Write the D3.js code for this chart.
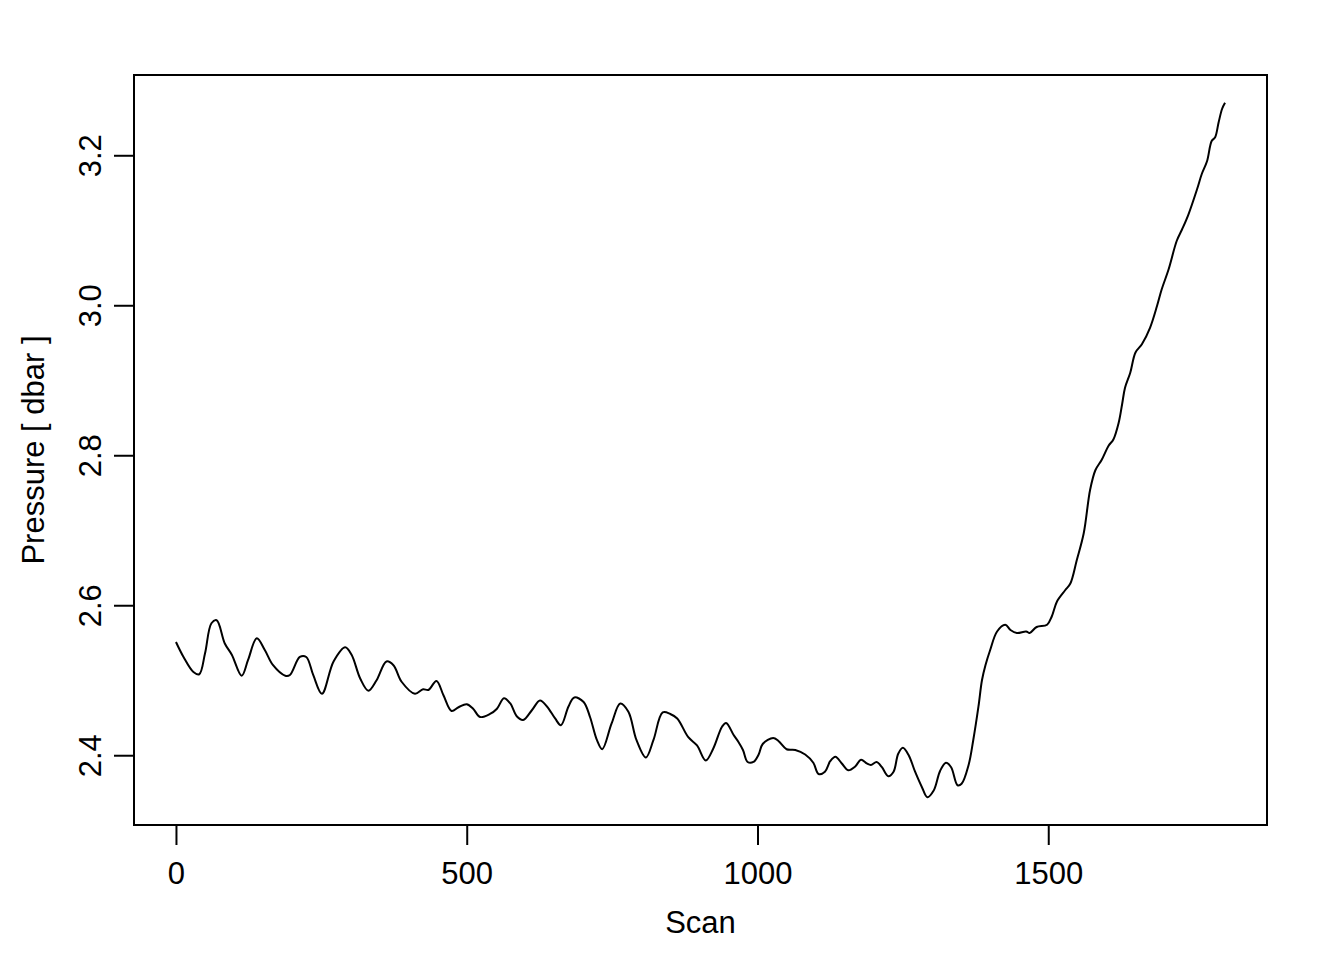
<!DOCTYPE html>
<html>
<head>
<meta charset="utf-8">
<script src="https://cdn.jsdelivr.net/npm/d3@7"></script>
<style>
  html, body { margin: 0; padding: 0; background: #fff; }
  svg { display: block; }
  text { font-family: "Liberation Sans", Arial, Helvetica, sans-serif; fill: #000; }
</style>
</head>
<body>
<svg id="chart" width="1344" height="960"></svg>
<script>
// Scan numbers and pressure values (dbar)
const scans = [
  0, 13, 30, 40, 50, 61, 70, 84, 96, 113, 124, 139, 153, 167, 188, 196, 213, 224, 236, 251,
  271, 291, 302, 317, 331, 345, 362, 374, 388, 411, 425, 434, 448, 460, 474, 486,
  500, 511, 523, 540, 552, 564, 575, 586, 597, 612, 626, 638, 652, 662, 675, 685, 701, 712,
  724, 733, 749, 764, 778, 792, 808, 821, 837, 850, 862, 881, 896, 911, 924, 939, 946, 959,
  967, 975, 983, 993, 1002, 1009, 1027, 1036, 1050, 1065, 1082, 1096, 1105, 1116, 1125, 1134,
  1145, 1156, 1168, 1178, 1188, 1195, 1205, 1214, 1225, 1234, 1242, 1250, 1260, 1271, 1283,
  1292, 1303, 1314, 1324, 1333, 1344, 1351, 1363, 1371, 1380, 1386, 1392, 1400, 1412, 1426,
  1435, 1446, 1462, 1468, 1480, 1498, 1506, 1515, 1529, 1538, 1549, 1561, 1572, 1581, 1592,
  1604, 1612, 1621, 1627, 1632, 1641, 1650, 1661, 1675, 1687, 1695, 1707, 1721, 1730, 1741,
  1756, 1764, 1773, 1781, 1787, 1793, 1799, 1804
];
const pressure = [
  2.551, 2.531, 2.511, 2.508, 2.536, 2.576, 2.580, 2.549, 2.534, 2.506, 2.527, 2.556, 2.540, 2.520, 2.506, 2.507, 2.531, 2.531, 2.507, 2.482,
  2.525, 2.544, 2.534, 2.502, 2.486, 2.500, 2.525, 2.520, 2.498, 2.482, 2.488, 2.487, 2.499, 2.480, 2.459, 2.464,
  2.468, 2.462, 2.451, 2.455, 2.462, 2.476, 2.469, 2.452, 2.447, 2.460, 2.473, 2.465, 2.449, 2.440, 2.465, 2.477, 2.471, 2.451,
  2.420, 2.408, 2.442, 2.469, 2.458, 2.420, 2.397, 2.420, 2.457, 2.455, 2.449, 2.424, 2.413, 2.393, 2.409, 2.438, 2.443, 2.427,
  2.418, 2.407, 2.391, 2.391, 2.401, 2.415, 2.423, 2.419, 2.408, 2.407, 2.401, 2.390, 2.375, 2.378, 2.392, 2.398,
  2.389, 2.380, 2.385, 2.394, 2.389, 2.387, 2.391, 2.384, 2.372, 2.378, 2.402, 2.410, 2.400, 2.378, 2.357,
  2.344, 2.353, 2.379, 2.390, 2.384, 2.360, 2.362, 2.387, 2.420, 2.465, 2.500, 2.520, 2.540, 2.565, 2.574,
  2.567, 2.563, 2.565, 2.563, 2.571, 2.574, 2.585, 2.605, 2.620, 2.629, 2.660, 2.696, 2.754, 2.780, 2.794,
  2.813, 2.821, 2.843, 2.868, 2.890, 2.910, 2.937, 2.948, 2.970, 2.999, 3.021, 3.048, 3.086, 3.101, 3.121,
  3.155, 3.175, 3.192, 3.219, 3.224, 3.244, 3.262, 3.270
];
const xTicks = [0, 500, 1000, 1500];
const yTicks = [2.4, 2.6, 2.8, 3.0, 3.2];
const xTitle = "Scan";
const yTitle = "Pressure [ dbar ]";

const data = scans.map((s, i) => ({ s: s, p: pressure[i] }));

const mLeft = 134, mRight = 1267, mTop = 75, mBottom = 825;
const fontSize = 31;

function padded(ext) {
  const d = (ext[1] - ext[0]) * 0.04;
  return [ext[0] - d, ext[1] + d];
}

const x = d3.scaleLinear().domain(padded(d3.extent(scans))).range([mLeft, mRight]);
const y = d3.scaleLinear().domain(padded(d3.extent(pressure))).range([mBottom, mTop]);

const svg = d3.select("#chart");

// plot box
svg.append("rect")
  .attr("x", mLeft).attr("y", mTop)
  .attr("width", mRight - mLeft).attr("height", mBottom - mTop)
  .attr("fill", "none").attr("stroke", "#000").attr("stroke-width", 2);

// x axis
const xAxis = d3.axisBottom(x).tickValues(xTicks).tickSize(20).tickPadding(10)
  .tickFormat(d3.format("d"));
const gx = svg.append("g").attr("transform", `translate(0,${mBottom})`).call(xAxis);
gx.select(".domain").attr("stroke-width", 2)
  .attr("d", `M${x(xTicks[0])},0H${x(xTicks[xTicks.length - 1])}`);
gx.selectAll(".tick line").attr("stroke-width", 2);
gx.selectAll(".tick text")
  .attr("font-size", fontSize)
  .attr("font-family", "'Liberation Sans', Arial, sans-serif")
  .attr("y", 48).attr("dy", "0.35em");

// y axis
const yAxis = d3.axisLeft(y).tickValues(yTicks).tickSize(20)
  .tickFormat(d3.format(".1f"));
const gy = svg.append("g").attr("transform", `translate(${mLeft},0)`).call(yAxis);
gy.select(".domain").attr("stroke-width", 2)
  .attr("d", `M0,${y(yTicks[0])}V${y(yTicks[yTicks.length - 1])}`);
gy.selectAll(".tick line").attr("stroke-width", 2);
gy.selectAll(".tick text")
  .attr("font-size", fontSize)
  .attr("font-family", "'Liberation Sans', Arial, sans-serif")
  .attr("x", null).attr("dy", null)
  .attr("text-anchor", "middle")
  .attr("dominant-baseline", "central")
  .attr("transform", "translate(-44,0) rotate(-90)");

// axis titles
svg.append("text")
  .attr("x", (mLeft + mRight) / 2).attr("y", 922)
  .attr("text-anchor", "middle").attr("dominant-baseline", "central")
  .attr("font-size", fontSize)
  .text(xTitle);

svg.append("text")
  .attr("transform", `translate(33,${(mTop + mBottom) / 2}) rotate(-90)`)
  .attr("text-anchor", "middle").attr("dominant-baseline", "central")
  .attr("font-size", fontSize)
  .text(yTitle);

// data line
const line = d3.line().curve(d3.curveCatmullRom.alpha(0.5)).x(d => x(d.s)).y(d => y(d.p));
svg.append("path")
  .datum(data)
  .attr("d", line)
  .attr("fill", "none")
  .attr("stroke", "#000")
  .attr("stroke-width", 2)
  .attr("stroke-linejoin", "round");
</script>
</body>
</html>
